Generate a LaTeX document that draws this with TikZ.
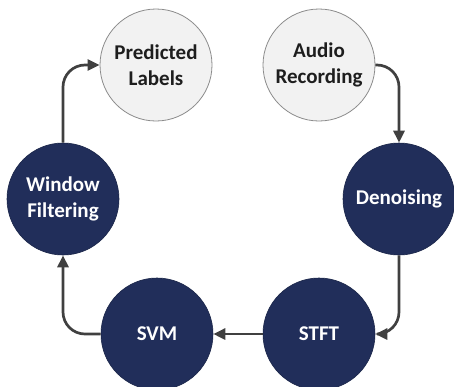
\documentclass[tikz,border=0pt]{standalone}
\usepackage{fontspec}
\setmainfont{Carlito}
\usetikzlibrary{arrows.meta}
\definecolor{navy}{RGB}{33,46,90}
\definecolor{lightfill}{RGB}{242,242,242}
\definecolor{rimgray}{RGB}{140,140,140}
\definecolor{arrowgray}{RGB}{64,64,64}
\definecolor{textdark}{RGB}{30,30,30}
\begin{document}
\begin{tikzpicture}[x=1pt,y=-1pt,
  basecircle/.style={circle, minimum size=112pt, inner sep=0pt, align=center,
    font=\fontsize{21}{26}\selectfont\bfseries},
  darkstep/.style={basecircle, fill=navy, draw=navy!80!black, line width=0.6pt, text=white},
  lightstep/.style={basecircle, fill=lightfill, draw=rimgray, line width=0.8pt, text=textdark},
  flow/.style={draw=arrowgray, line width=2.7pt, rounded corners=22pt,
    -{Triangle[length=12pt,width=11pt]}}]
\useasboundingbox (0,0) rectangle (454,386);
\node[lightstep] (pred) at (156,65) {Predicted\\Labels};
\node[lightstep] (audio) at (319,65) {Audio\\Recording};
\node[darkstep] (den) at (399,199) {Denoising};
\node[darkstep] (win) at (63,199) {Window\\Filtering};
\node[darkstep] (svm) at (157,334) {SVM};
\node[darkstep] (stft) at (319,334) {STFT};
\draw[flow] (audio.east) -| (den.north);
\draw[flow] (den.south) |- (stft.east);
\draw[flow] (stft.west) -- (svm.east);
\draw[flow] (svm.west) -| (win.south);
\draw[flow] (win.north) |- (pred.west);
\end{tikzpicture}
\end{document}
